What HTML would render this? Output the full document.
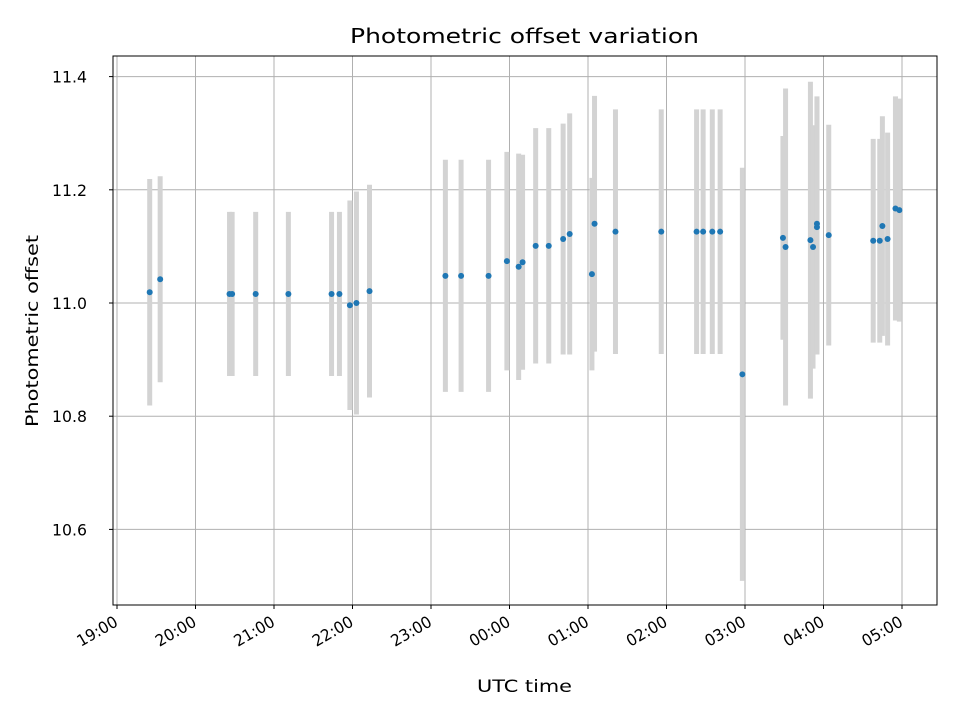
<!DOCTYPE html>
<html><head><meta charset="utf-8"><style>
body{margin:0;background:#fff;}
svg text{font-family:"DejaVu Sans","Liberation Sans",sans-serif;fill:#000;}
</style></head><body>
<svg id="chart" width="960" height="720" xmlns="http://www.w3.org/2000/svg">
<rect width="960" height="720" fill="#fff"/>
<g id="grid"></g><g id="bars"></g><g id="dots"></g><g id="axes"></g>
<text x="350" y="43" font-size="20" textLength="349" lengthAdjust="spacingAndGlyphs">Photometric offset variation</text>
<text x="477" y="692" font-size="17" textLength="95" lengthAdjust="spacingAndGlyphs">UTC time</text>
<text transform="translate(38,427) rotate(-90)" font-size="17" textLength="192" lengthAdjust="spacingAndGlyphs">Photometric offset</text>
</svg>
<script>
const times=["19:25","19:33","20:26","20:28","20:46","21:11","21:44","21:50","21:58","22:03","22:13","23:11","23:23","23:44","23:58","00:07","00:10","00:20","00:30","00:41","00:46","01:03","01:05","01:21","01:56","02:23","02:28","02:35","02:41","02:58","03:29","03:31","03:50","03:52","03:55","03:55","04:04","04:38","04:43","04:45","04:49","04:55","04:58"];
const values=[11.019,11.042,11.016,11.016,11.016,11.016,11.016,11.016,10.996,11.0,11.021,11.048,11.048,11.048,11.074,11.064,11.072,11.101,11.101,11.113,11.122,11.051,11.14,11.126,11.126,11.126,11.126,11.126,11.126,10.874,11.115,11.099,11.111,11.099,11.14,11.134,11.12,11.11,11.11,11.136,11.113,11.167,11.164];
const errors=[0.2,0.182,0.145,0.145,0.145,0.145,0.145,0.145,0.185,0.197,0.188,0.205,0.205,0.205,0.193,0.2,0.19,0.208,0.208,0.204,0.213,0.17,0.226,0.216,0.216,0.216,0.216,0.216,0.216,0.365,0.18,0.28,0.28,0.215,0.225,0.225,0.195,0.18,0.18,0.194,0.188,0.198,0.197];
const yTicks=[10.6,10.8,11.0,11.2,11.4];
const xTickLabels=["19:00","20:00","21:00","22:00","23:00","00:00","01:00","02:00","03:00","04:00","05:00"];
const L=113,R=937,T=56,B=605;
function toH(s){let[h,m]=s.split(":").map(Number);if(h<12)h+=24;return h+m/60;}
const xs=h=>117+(h-19)*78.5;
const ys=v=>303-(v-11.0)*566;
const NS="http://www.w3.org/2000/svg";
function mk(tag,attrs,parent){const e=document.createElementNS(NS,tag);for(const k in attrs)e.setAttribute(k,attrs[k]);document.getElementById(parent).appendChild(e);return e;}
yTicks.forEach(v=>{const y=ys(v);
const g=mk("line",{x1:L,x2:R,y1:y,y2:y,stroke:"#b0b0b0","stroke-width":1},"grid");


const t=mk("line",{x1:L-4,x2:L,y1:y,y2:y,stroke:"#000"},"axes");


const tx=mk("text",{x:52,y:y+6,"font-size":16,textLength:35,lengthAdjust:"spacingAndGlyphs"},"axes");tx.textContent=v.toFixed(1);

});
xTickLabels.forEach(s=>{const x=xs(toH(s));
const g=mk("line",{x1:x,x2:x,y1:T,y2:B,stroke:"#b0b0b0","stroke-width":1},"grid");


const t=mk("line",{x1:x,x2:x,y1:B,y2:B+4,stroke:"#000"},"axes");


const tx=mk("text",{transform:`translate(${x+2},${B+20}) rotate(-30)`,"text-anchor":"end","font-size":16,textLength:44,lengthAdjust:"spacingAndGlyphs"},"axes");tx.textContent=s;

});
times.forEach((s,i)=>{const x=xs(toH(s));
const b=mk("line",{x1:x,x2:x,y1:ys(values[i]+errors[i]),y2:ys(values[i]-errors[i]),stroke:"#d3d3d3","stroke-width":5},"bars");

});
times.forEach((s,i)=>{const x=xs(toH(s));
const d=mk("circle",{cx:x,cy:ys(values[i]),r:3,fill:"#1f77b4"},"dots");

});
const f=mk("rect",{x:L,y:T,width:R-L,height:B-T,fill:"none",stroke:"#000","stroke-width":1},"axes");


</script>
</body></html>
